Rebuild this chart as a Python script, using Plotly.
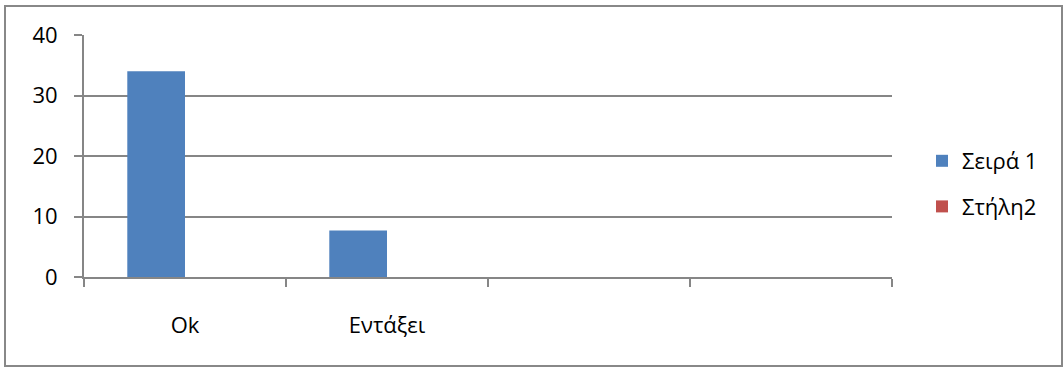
import plotly.graph_objects as go

categories = ["Ok", "Εντάξει", " ", "  "]
series1_name = "Σειρά 1"
series1_values = [34, 7.7, None, None]
series2_name = "Στήλη2"
series2_values = [None, None, None, None]
y_tick_values = [0, 10, 20, 30, 40]

W, H = 1064, 372
L, R, T, B = 84, 892, 35, 277
pw, ph = R - L, B - T

FONT = "Open Sans"
GRID = "#868686"
FS = 22

fig = go.Figure()
fig.add_trace(go.Bar(x=categories, y=series1_values, name=series1_name,
                     marker=dict(color="#4F81BD", line=dict(width=0)),
                     legendgroup="a"))
fig.add_trace(go.Bar(x=categories, y=series2_values, name=series2_name,
                     marker=dict(color="#C0504D", line=dict(width=0)),
                     legendgroup="b"))

def px_x(x):
    return (x - L) / pw

def px_y(y):
    return (B - y) / ph

fig.update_layout(
    width=W, height=H,
    margin=dict(l=L, r=W - R, t=T, b=H - B, pad=0, autoexpand=False),
    paper_bgcolor="white", plot_bgcolor="white",
    barmode="group", bargap=1.5 / 3.5, bargroupgap=0,
    font=dict(family=FONT, size=FS, color="black"),
    showlegend=True,
    legend=dict(x=px_x(922), xanchor="left", y=px_y(184), yanchor="middle",
                font=dict(family=FONT, size=FS, color="black"), tracegroupgap=14,
                bgcolor="rgba(0,0,0,0)", itemclick=False),
    xaxis=dict(type="category", categoryorder="array", categoryarray=categories,
               tickson="boundaries", ticks="outside", ticklen=8, tickcolor=GRID,
               tickwidth=2, showline=True, linecolor=GRID, linewidth=2,
               tickfont=dict(family=FONT, size=FS, color="black"),
               showgrid=False, ticklabelstandoff=28, fixedrange=True,
               automargin=False),
    yaxis=dict(range=[0, 40], tickvals=y_tick_values, ticks="outside", ticklen=8,
               tickcolor=GRID, tickwidth=2, showline=True, linecolor=GRID, linewidth=2,
               tickfont=dict(family=FONT, size=FS, color="black"),
               showgrid=True, gridcolor=GRID, gridwidth=2, zeroline=False,
               ticklabelstandoff=12, fixedrange=True, automargin=False),
    shapes=[dict(type="rect", xref="paper", yref="paper",
                 x0=px_x(5), x1=px_x(1062), y0=px_y(366), y1=px_y(6),
                 line=dict(color="#888888", width=2), fillcolor="rgba(0,0,0,0)",
                 layer="below")],
)

fig.write_html("out.html")
